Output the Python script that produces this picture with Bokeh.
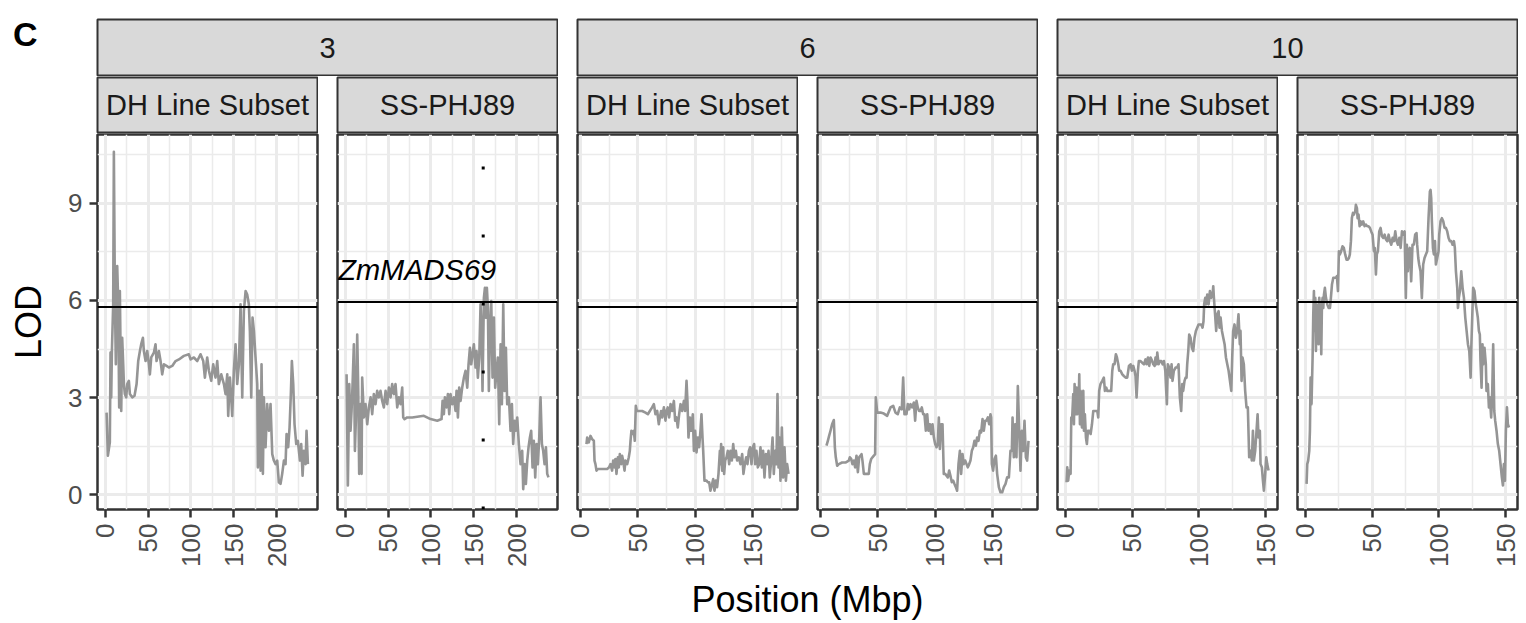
import math
from bokeh.plotting import figure
from bokeh.models import Range1d, FixedTicker, Grid, Span, Spacer
from bokeh.layouts import row, column
from bokeh.core.properties import value
from bokeh.embed import file_html
from bokeh.resources import INLINE

FONT = "Liberation Sans"

# ---------------- data ----------------
chromosomes = ["3", "6", "10"]
populations = ["DH Line Subset", "SS-PHJ89"]
panel_tag = "C"
x_title = "Position (Mbp)"
y_title = "LOD"

# significance thresholds per population
thresholds = [5.8, 5.95]

# candidate gene annotation
gene_name = "ZmMADS69"
gene_chrom = "3"
gene_pop = "SS-PHJ89"
gene_pos = 161.0
gene_label_x = 84.0
gene_label_y = 6.95

x_ticks = {"3": [0, 50, 100, 150, 200], "6": [0, 50, 100, 150], "10": [0, 50, 100, 150]}
x_minor = {"3": [25, 75, 125, 175, 225], "6": [25, 75, 125, 175], "10": [25, 75, 125]}
x_limits = {"3": (-9.0, 247.7), "6": (-2.6, 188.7), "10": (-5.8, 158.9)}
y_ticks = [0, 3, 6, 9]
y_minor = [1.5, 4.5, 7.5, 10.5]
y_limits = (-0.45, 11.12)

chr3_dh = [(1.6,2.54),(3.1,1.21),(5.4,1.62),(6.2,4.39),(7.0,3.01),(7.8,4.44),(9.3,5.88),(10.1,10.59),(11.3,6.08),(12.4,4.03),(14.0,7.06),(15.2,5.88),(16.3,2.70),(17.1,6.29),(18.7,2.59),(19.8,4.85),(21.0,4.03),(21.8,3.42),(22.9,3.11),(24.5,3.01),(25.7,3.42),(27.6,3.52),(28.8,3.11),(31.5,3.01),(34.2,3.06),(36.6,3.42),(38.5,4.13),(40.5,4.44),(42.0,4.65),(44.0,4.85),(45.1,4.44),(47.1,4.13),(49.0,4.44),(51.0,4.03),(52.1,3.72),(53.7,4.24),(56.8,4.39),(58.7,4.65),(59.9,4.13),(62.6,4.44),(64.6,4.13),(66.5,3.72),(68.5,4.03),(71.6,3.98),(74.3,3.93),(78.2,3.98),(82.1,4.13),(86.0,4.18),(91.8,4.29),(97.6,4.34),(99.6,4.18),(103.5,4.24),(107.4,4.13),(111.2,4.34),(114.4,4.13),(116.3,3.62),(119.0,4.24),(121.0,3.83),(123.7,3.52),(126.0,4.03),(128.7,3.62),(130.7,4.13),(132.6,3.42),(135.4,3.72),(138.5,3.42),(140.4,3.11),(142.4,3.72),(143.5,2.44),(145.5,3.62),(147.0,3.01),(148.2,2.44),(150.1,3.83),(152.1,4.65),(154.0,3.42),(156.0,4.03),(157.9,5.88),(159.9,3.01),(161.8,5.67),(163.8,6.29),(165.7,6.18),(167.6,5.88),(168.8,5.06),(170.4,3.01),(171.9,5.47),(173.5,5.06),(175.4,4.24),(177.4,3.42),(178.1,0.85),(179.7,3.21),(181.3,0.75),(182.4,4.03),(184.0,0.65),(185.1,3.01),(187.1,1.47),(189.0,2.80),(191.0,1.98),(192.9,2.80),(194.9,1.26),(196.8,1.06),(198.8,0.95),(200.7,1.06),(202.6,0.39),(204.6,0.34),(206.5,0.65),(208.5,1.06),(210.4,0.95),(211.6,1.88),(213.5,1.47),(215.1,2.08),(216.6,3.11),(217.8,4.13),(219.4,3.42),(220.9,2.18),(222.9,1.57),(224.8,1.67),(227.2,1.06),(228.7,1.57),(230.3,0.59),(231.8,1.36),(233.8,0.95),(234.9,1.98),(236.5,0.95)]

chr3_ss = [(1.6,3.72),(3.1,0.29),(4.7,3.42),(6.2,1.98),(7.4,2.59),(8.6,3.42),(10.1,4.65),(11.3,1.36),(12.4,2.29),(14.0,4.95),(15.2,3.21),(16.3,0.65),(17.9,2.80),(19.1,0.65),(19.8,3.62),(21.8,2.39),(23.7,2.80),(25.7,2.18),(27.6,2.70),(29.6,3.01),(31.5,2.49),(33.4,3.11),(35.4,2.80),(37.3,3.21),(39.3,3.01),(41.2,3.21),(43.2,2.90),(45.1,2.70),(47.1,3.21),(49.0,2.80),(51.0,3.31),(52.9,3.01),(54.8,3.42),(56.8,3.11),(58.7,3.42),(60.7,2.70),(62.6,3.01),(64.6,2.80),(66.5,3.31),(67.7,2.39),(69.2,2.34),(72.3,2.39),(78.2,2.39),(84.0,2.41),(91.8,2.44),(99.6,2.34),(107.4,2.29),(112.4,2.34),(113.6,2.90),(115.1,2.49),(116.3,3.01),(118.2,2.70),(119.8,3.11),(121.4,2.49),(122.9,3.11),(124.9,2.80),(126.8,3.01),(128.7,2.59),(129.9,3.21),(131.5,2.39),(133.0,3.31),(134.6,2.90),(136.5,3.31),(138.5,3.62),(140.4,3.83),(142.4,3.31),(143.9,4.03),(145.5,4.54),(147.0,4.03),(148.6,4.34),(150.1,4.65),(152.1,3.93),(153.2,4.44),(154.8,3.62),(156.4,4.24),(157.9,5.88),(159.1,5.06),(160.2,3.21),(161.8,6.08),(163.0,6.39),(164.1,5.47),(165.3,6.39),(166.5,5.77),(167.6,3.21),(168.8,5.06),(170.4,5.98),(171.9,3.62),(173.5,5.47),(175.0,3.31),(176.6,3.83),(178.1,4.24),(179.7,2.18),(181.3,4.65),(182.8,2.80),(184.4,5.88),(185.9,3.21),(187.5,4.54),(189.0,2.80),(191.0,3.01),(192.9,1.98),(194.5,2.80),(196.0,1.57),(197.6,2.29),(199.1,1.98),(200.7,2.39),(202.6,1.57),(204.6,0.95),(206.5,1.36),(207.7,0.18),(209.3,0.95),(210.8,0.34),(212.4,1.06),(213.9,1.47),(215.5,1.77),(217.0,1.98),(218.6,0.85),(220.1,1.67),(221.7,0.54),(223.3,1.57),(224.8,0.95),(226.4,1.77),(227.9,3.01),(229.5,1.57),(231.0,1.36),(232.6,0.95),(234.2,1.47),(235.7,0.65),(237.2,0.54)]

chr6_dh = [(5.2,1.57),(5.8,1.77),(7.2,1.62),(8.7,1.82),(10.1,1.72),(11.6,1.67),(12.2,1.06),(13.0,0.95),(13.9,0.75),(15.1,0.80),(17.4,0.80),(20.3,0.80),(23.2,0.80),(24.9,0.85),(26.1,0.95),(27.5,0.75),(28.4,1.06),(29.6,0.85),(30.4,1.11),(31.3,0.65),(32.5,1.16),(33.3,0.85),(34.2,1.26),(35.4,0.95),(36.2,1.21),(37.1,1.06),(38.3,0.75),(39.1,1.06),(40.6,0.95),(42.0,1.16),(42.9,1.36),(43.5,1.67),(44.3,1.98),(45.2,1.88),(46.4,1.98),(47.2,1.67),(48.1,2.75),(49.0,2.59),(50.7,2.59),(53.6,2.59),(56.5,2.54),(58.6,2.49),(60.3,2.59),(62.3,2.70),(63.8,2.80),(65.2,2.49),(66.7,2.59),(68.1,2.18),(69.0,2.39),(70.1,2.59),(71.0,2.39),(72.5,2.70),(73.9,2.29),(74.8,2.59),(75.9,2.70),(77.1,2.39),(78.3,2.80),(79.7,2.59),(81.2,2.90),(82.3,2.29),(83.5,2.39),(84.6,2.08),(85.8,2.49),(87.0,2.80),(88.4,2.59),(89.9,2.90),(91.0,2.59),(92.2,3.52),(93.0,2.90),(93.9,1.77),(95.1,2.39),(96.2,1.98),(97.7,2.49),(98.6,1.36),(99.7,1.98),(100.9,1.31),(102.0,1.77),(103.2,1.47),(104.3,1.98),(105.2,2.49),(106.1,1.77),(106.7,1.36),(107.8,0.44),(109.6,0.44),(110.7,0.39),(111.9,0.39),(113.0,0.13),(114.2,0.29),(115.4,0.49),(116.5,0.13),(117.7,0.44),(118.8,0.24),(120.0,0.65),(121.2,1.36),(121.7,0.95),(122.3,1.57),(123.2,0.75),(124.1,1.47),(124.9,0.65),(125.8,1.06),(127.0,1.16),(128.1,1.36),(129.3,0.95),(130.4,1.36),(131.6,1.06),(132.8,1.57),(133.9,1.16),(135.1,1.36),(136.2,1.06),(137.7,1.16),(139.1,0.95),(140.6,1.26),(141.7,0.65),(142.9,0.95),(144.1,1.16),(145.2,0.95),(146.4,1.36),(147.5,1.47),(148.7,0.95),(149.9,1.47),(151.0,1.57),(151.9,0.95),(153.0,1.36),(154.2,0.85),(155.4,0.95),(156.5,1.47),(157.7,0.85),(158.8,1.36),(160.0,0.54),(161.2,1.26),(162.3,0.95),(163.5,1.36),(164.6,0.54),(165.8,1.06),(167.0,1.77),(168.1,0.65),(169.3,1.36),(170.4,0.95),(171.3,3.11),(172.2,0.85),(173.0,1.77),(173.9,0.44),(175.1,2.08),(176.2,0.54),(177.4,1.47),(178.6,0.44),(179.7,0.95),(180.9,0.65)]

chr6_ss = [(5.2,1.52),(6.4,1.67),(7.5,1.82),(8.7,1.98),(10.1,2.18),(11.6,2.31),(12.5,1.47),(13.3,1.16),(14.5,0.90),(15.9,0.95),(18.8,1.00),(21.7,1.00),(24.6,1.06),(25.5,1.16),(26.7,1.11),(27.8,0.95),(29.0,1.06),(30.1,0.85),(31.3,1.21),(32.5,0.70),(33.6,1.16),(34.8,1.21),(35.7,1.26),(36.5,1.06),(37.7,0.65),(39.1,0.65),(40.6,0.65),(42.0,0.65),(42.9,0.95),(44.1,1.11),(45.2,1.16),(46.4,1.21),(47.5,1.26),(48.1,3.01),(49.3,2.54),(52.2,2.54),(55.1,2.51),(58.0,2.44),(60.9,2.70),(63.2,2.75),(65.2,2.54),(67.2,2.49),(69.0,2.70),(70.7,2.64),(71.9,3.62),(73.0,2.49),(74.8,2.49),(75.9,2.80),(77.1,2.64),(78.3,2.80),(79.7,2.70),(81.2,2.85),(82.3,2.29),(83.5,2.90),(84.6,2.70),(85.8,2.59),(87.0,2.59),(88.1,2.70),(89.3,2.49),(90.4,2.49),(91.6,1.98),(92.8,2.49),(93.9,1.98),(95.1,2.18),(96.2,1.88),(97.4,2.18),(98.6,1.77),(99.7,1.57),(100.9,1.47),(102.0,1.57),(102.9,2.39),(103.8,1.42),(104.9,2.18),(106.1,2.18),(107.2,0.65),(108.4,0.65),(109.6,0.59),(110.7,0.54),(111.9,0.75),(113.0,0.59),(114.2,0.39),(115.4,0.44),(116.5,0.34),(117.7,0.24),(118.8,0.13),(120.0,0.95),(121.2,1.36),(122.3,0.65),(123.5,1.26),(124.6,0.95),(125.8,1.06),(127.0,0.95),(128.1,0.85),(129.3,0.95),(130.4,1.06),(131.6,1.36),(132.8,1.47),(133.9,1.67),(135.1,1.52),(136.2,1.77),(137.4,1.67),(138.6,1.98),(139.7,1.93),(140.9,2.34),(142.0,1.98),(143.2,2.29),(144.3,2.29),(145.5,2.39),(146.7,2.18),(147.8,2.49),(148.4,2.39),(149.0,0.95),(150.1,0.75),(151.3,1.11),(152.5,1.21),(153.6,0.65),(155.1,0.24),(156.5,0.08),(158.0,0.08),(159.4,0.24),(160.9,0.34),(162.3,0.54),(163.8,0.54),(165.2,1.36),(166.4,1.36),(167.0,2.39),(168.1,1.16),(169.3,2.18),(170.4,1.16),(171.6,3.36),(172.8,1.98),(173.9,0.75),(175.1,1.98),(176.2,1.36),(177.4,2.29),(178.6,1.16),(179.7,1.06),(180.9,1.67)]

chr10_dh = [(1.0,0.39),(1.5,0.85),(2.2,0.44),(3.0,0.75),(4.0,0.65),(4.5,2.39),(5.2,2.39),(6.0,3.11),(6.5,2.18),(7.0,3.42),(7.7,2.49),(8.5,3.31),(9.0,2.49),(9.5,3.21),(10.0,2.80),(10.5,3.72),(11.0,2.18),(11.5,3.21),(12.0,2.39),(12.5,2.08),(13.0,3.01),(13.5,3.21),(14.0,1.98),(14.7,2.49),(15.5,1.77),(16.2,1.57),(17.0,1.98),(18.0,1.98),(19.0,1.88),(20.0,2.18),(21.0,2.59),(22.0,2.59),(23.0,2.59),(24.0,2.59),(24.7,2.39),(25.4,3.21),(26.4,3.42),(27.7,3.52),(28.9,3.62),(29.7,3.21),(30.7,3.31),(31.4,3.21),(32.7,3.21),(33.4,3.21),(34.4,3.21),(35.2,3.83),(35.9,4.03),(36.9,4.03),(37.9,4.34),(38.7,4.24),(39.7,4.03),(40.4,3.83),(41.4,3.83),(42.7,3.72),(43.9,3.67),(45.2,3.62),(46.4,3.62),(47.7,3.98),(48.9,4.03),(49.9,3.83),(50.9,3.98),(51.9,3.83),(52.6,3.67),(53.4,3.01),(54.4,3.83),(55.1,4.13),(56.4,4.13),(57.6,4.08),(58.9,4.03),(60.1,4.18),(60.9,4.03),(61.9,4.24),(62.9,3.98),(63.9,4.24),(65.1,4.13),(65.9,4.03),(66.9,3.98),(67.6,4.24),(68.4,4.03),(68.9,4.39),(69.9,4.03),(70.9,4.13),(71.9,4.13),(72.9,4.03),(73.9,4.13),(74.9,3.83),(75.6,3.21),(76.1,2.80),(76.8,4.03),(77.8,3.93),(78.8,3.62),(79.6,4.03),(80.3,3.52),(81.3,3.83),(82.6,3.93),(83.8,3.93),(84.8,4.03),(85.8,3.01),(86.8,2.59),(87.6,3.42),(88.3,3.21),(89.3,3.52),(90.1,3.62),(90.8,3.62),(91.3,4.03),(92.1,4.44),(92.8,4.95),(93.8,4.85),(94.8,4.54),(95.8,4.44),(96.8,4.85),(97.8,5.06),(98.8,5.16),(99.8,5.26),(100.8,5.26),(101.8,5.26),(102.8,5.16),(103.5,5.36),(104.0,5.88),(104.8,6.08),(105.5,5.88),(106.3,6.18),(107.3,5.88),(108.3,6.29),(109.3,6.08),(110.3,6.18),(110.8,6.44),(111.3,6.08),(112.0,5.67),(113.0,5.06),(113.8,5.57),(114.8,5.67),(115.5,5.16),(116.3,5.47),(117.3,5.06),(118.3,4.85),(119.3,4.65),(120.3,4.24),(121.3,4.03),(122.3,3.83),(123.3,3.52),(124.3,3.21),(125.0,4.24),(125.7,5.06),(126.7,5.26),(127.7,4.85),(128.7,5.06),(129.7,5.57),(130.7,4.65),(131.2,5.06),(132.0,3.52),(132.7,4.24),(133.7,4.03),(134.7,3.21),(135.7,2.70),(136.7,2.70),(137.7,1.16),(138.7,1.36),(139.7,1.06),(140.5,1.98),(141.2,1.06),(142.2,1.36),(143.2,1.98),(144.0,2.49),(144.7,1.77),(145.7,1.98),(146.2,0.95),(147.2,0.85),(148.0,0.44),(148.7,0.13),(149.5,0.54),(150.5,1.16),(151.2,0.95),(152.2,0.75)]

chr10_ss = [(1.0,0.34),(1.5,0.95),(2.2,1.06),(3.0,1.36),(3.5,1.98),(4.0,3.62),(4.7,2.80),(5.5,4.24),(6.0,5.57),(6.5,6.29),(7.0,5.06),(7.5,6.08),(8.0,4.44),(8.5,5.88),(9.0,4.85),(9.5,5.77),(10.0,4.65),(10.5,6.08),(11.0,5.06),(11.5,5.77),(12.0,4.34),(12.5,5.88),(13.0,6.08),(13.5,5.77),(14.0,6.18),(14.7,6.39),(15.5,6.08),(16.5,5.88),(17.5,5.77),(18.5,5.77),(19.2,6.08),(20.0,6.49),(21.0,6.70),(22.0,6.70),(23.0,6.70),(23.7,6.75),(24.5,6.29),(25.2,7.52),(25.9,7.42),(26.9,7.52),(27.9,7.67),(28.9,7.62),(29.9,7.42),(30.9,7.26),(31.9,7.26),(32.7,7.31),(33.4,7.42),(34.2,7.83),(34.9,8.54),(35.7,8.70),(36.4,8.65),(37.4,8.75),(37.9,8.95),(38.7,8.85),(39.2,8.54),(39.9,8.65),(40.7,8.29),(41.4,8.44),(42.4,8.34),(43.4,8.44),(44.4,8.29),(45.4,8.34),(46.4,8.29),(47.4,8.29),(48.4,8.24),(49.4,8.13),(50.4,8.03),(51.4,7.52),(52.1,7.62),(52.9,6.80),(53.6,7.42),(54.4,7.52),(55.4,8.13),(56.4,8.24),(57.4,7.98),(58.4,7.93),(59.4,8.03),(60.4,7.88),(61.4,7.83),(62.4,8.03),(63.4,7.83),(64.4,7.72),(65.4,7.93),(66.4,7.83),(67.4,8.13),(68.4,7.83),(69.4,7.72),(70.4,7.93),(71.4,7.62),(72.4,8.13),(73.4,8.03),(74.4,8.13),(75.3,6.08),(76.1,7.72),(76.8,6.90),(77.6,7.52),(78.3,7.62),(79.3,6.59),(80.3,7.72),(81.3,7.72),(82.3,8.03),(83.3,8.08),(83.8,7.72),(84.6,7.31),(85.3,7.11),(86.3,6.90),(87.3,6.08),(88.3,7.11),(89.3,7.31),(90.3,7.42),(91.3,7.52),(92.3,8.54),(93.3,9.36),(93.8,9.41),(94.3,9.16),(94.8,8.44),(95.6,7.62),(96.3,7.42),(97.1,7.83),(97.8,7.11),(98.8,7.31),(99.8,7.52),(100.3,8.03),(101.3,8.44),(102.3,8.54),(103.3,8.44),(104.3,8.24),(105.3,8.24),(106.3,8.13),(107.3,7.93),(108.3,7.83),(109.3,7.83),(110.3,7.72),(111.3,7.83),(112.0,7.62),(112.8,6.90),(113.8,6.39),(114.3,5.77),(115.0,6.08),(115.8,6.29),(116.8,6.90),(117.8,6.39),(118.8,6.08),(119.8,5.47),(120.8,5.06),(121.8,4.65),(122.8,4.44),(123.8,3.62),(124.3,4.54),(125.0,5.47),(125.7,6.39),(126.7,6.29),(127.7,5.88),(128.5,5.67),(129.2,5.47),(130.0,5.06),(130.7,4.95),(131.2,4.13),(132.0,3.31),(132.7,4.65),(133.2,4.03),(134.2,4.54),(135.2,4.03),(135.7,3.21),(136.7,3.42),(137.5,2.70),(138.2,3.01),(139.2,2.39),(140.0,3.21),(140.7,4.65),(141.5,2.59),(142.2,2.29),(143.2,1.98),(144.2,1.57),(145.2,1.36),(146.2,0.95),(147.2,0.54),(148.0,0.29),(148.7,0.95),(149.5,0.44),(150.2,1.98),(151.0,2.70),(151.7,2.18),(152.5,2.08)]

series = {
    ("3", "DH Line Subset"): chr3_dh,
    ("3", "SS-PHJ89"): chr3_ss,
    ("6", "DH Line Subset"): chr6_dh,
    ("6", "SS-PHJ89"): chr6_ss,
    ("10", "DH Line Subset"): chr10_dh,
    ("10", "SS-PHJ89"): chr10_ss,
}

# ---------------- style ----------------
STRIP_FILL = "#D9D9D9"
BORDER = "#333333"
GRID = "#EBEBEB"
LINE_COL = "#959595"
TICK_TXT = "#4D4D4D"
PANEL_W = 220
PANEL_H = 375


def blank_fig(w, h, **kw):
    f = figure(width=w, height=h, x_range=Range1d(0, 1), y_range=Range1d(0, 1),
               output_backend="svg", toolbar_location=None,
               x_axis_location=None, y_axis_location=None, **kw)
    for g in f.grid:
        g.visible = False
    return f


def strip_fig(label, w, h, top, bottom):
    s = blank_fig(w, h, min_border_left=1, min_border_right=1,
                  min_border_top=top, min_border_bottom=bottom,
                  background_fill_color=STRIP_FILL,
                  outline_line_color=BORDER, outline_line_width=2)
    s.text(x=[0.5], y=[0.5], text=[label], text_font=value(FONT),
           text_font_size="29px", text_color="#1A1A1A",
           text_align="center", text_baseline="middle")
    return s


def panel_fig(chrom, pop, idx):
    first = idx == 0
    last = idx == 5
    left = 97 if first else 14
    right = 9 if last else 6
    p = figure(width=left + PANEL_W + right, height=1 + PANEL_H + 70,
               x_range=Range1d(*x_limits[chrom]), y_range=Range1d(*y_limits),
               output_backend="svg", toolbar_location=None,
               y_axis_location="left" if first else None,
               min_border_left=left, min_border_right=right,
               min_border_top=1, min_border_bottom=70,
               outline_line_color=BORDER, outline_line_width=2.5,
               background_fill_color="white")
    # x axis
    ax = p.xaxis[0]
    ax.ticker = FixedTicker(ticks=x_ticks[chrom], minor_ticks=x_minor[chrom])
    ax.axis_line_color = None
    ax.major_tick_line_color = BORDER
    ax.major_tick_line_width = 2.5
    ax.major_tick_out = 8
    ax.major_tick_in = 0
    ax.minor_tick_line_color = None
    ax.major_label_orientation = math.pi / 2
    ax.major_label_text_font = FONT
    ax.major_label_text_font_size = "26px"
    ax.major_label_text_color = TICK_TXT
    ax.major_label_standoff = 6
    for g in p.xgrid:
        g.grid_line_color = GRID
        g.grid_line_width = 3
        g.minor_grid_line_color = GRID
        g.minor_grid_line_width = 1.5
    # y axis / grid
    if first:
        ay = p.yaxis[0]
        ay.ticker = FixedTicker(ticks=y_ticks, minor_ticks=y_minor)
        ay.axis_line_color = None
        ay.major_tick_line_color = BORDER
        ay.major_tick_line_width = 2.5
        ay.major_tick_out = 8
        ay.major_tick_in = 0
        ay.minor_tick_line_color = None
        ay.major_label_text_font = FONT
        ay.major_label_text_font_size = "26px"
        ay.major_label_text_color = TICK_TXT
        ay.major_label_standoff = 7
        ay.axis_label = y_title
        ay.axis_label_text_font = FONT
        ay.axis_label_text_font_size = "36px"
        ay.axis_label_text_font_style = "normal"
        ay.axis_label_text_color = "black"
        ay.axis_label_standoff = 16
        g = p.ygrid[0]
    else:
        for old in p.ygrid:
            old.visible = False
        g = Grid(dimension=1, ticker=FixedTicker(ticks=y_ticks, minor_ticks=y_minor))
        p.add_layout(g, "center")
    g.grid_line_color = GRID
    g.grid_line_width = 3
    g.minor_grid_line_color = GRID
    g.minor_grid_line_width = 1.5

    data = series[(chrom, pop)]
    xs = [d[0] for d in data]
    ys = [d[1] for d in data]
    p.line(xs, ys, line_color=LINE_COL, line_width=2.6, line_join="round")

    thr = thresholds[populations.index(pop)]
    p.add_layout(Span(location=thr, dimension="width", line_color="black", line_width=2))

    if chrom == gene_chrom and pop == gene_pop:
        p.line([gene_pos, gene_pos], [y_limits[0], y_limits[1]], line_color="black",
               line_width=3, line_dash="3 65", line_cap="butt")
        p.text(x=[gene_label_x], y=[gene_label_y], text=[gene_name],
               text_font=value(FONT), text_font_style="italic", text_font_size="29px",
               text_color="black", text_align="center", text_baseline="middle")
    return p


# --- row 1: tag + chromosome strips
tag = blank_fig(96, 76, min_border=0, outline_line_color=None)
tag.text(x=[0.13], y=[0.74], text=[panel_tag], text_font=value(FONT),
         text_font_style="bold", text_font_size="34px", text_color="black",
         text_align="left", text_baseline="middle")

row1_items = [tag]
for i, c in enumerate(chromosomes):
    row1_items.append(strip_fig(c, 462, 76, 19, 1))
    row1_items.append(Spacer(width=18 if i < 2 else 8, height=76))
row1 = row(*row1_items, spacing=0)

# --- row 2: population strips
row2_items = [Spacer(width=96, height=57)]
k = 0
for c in chromosomes:
    for pop in populations:
        row2_items.append(strip_fig(pop, 222, 57, 1, 1))
        row2_items.append(Spacer(width=18 if k < 5 else 8, height=57))
        k += 1
row2 = row(*row2_items, spacing=0)

# --- row 3: panels
panels = []
k = 0
for c in chromosomes:
    for pop in populations:
        panels.append(panel_fig(c, pop, k))
        k += 1
row3 = row(*panels, spacing=0)

# --- row 4: x title
tt = blank_fig(1526, 44, min_border_left=97, min_border_right=9,
               min_border_top=0, min_border_bottom=0, outline_line_color=None)
tt.text(x=[0.5], y=[0.54], text=[x_title], text_font=value(FONT),
        text_font_size="36px", text_color="black",
        text_align="center", text_baseline="middle")

layout = column(row1, row2, row3, tt, spacing=0)

open("out.html", "w").write(file_html(layout, INLINE))
